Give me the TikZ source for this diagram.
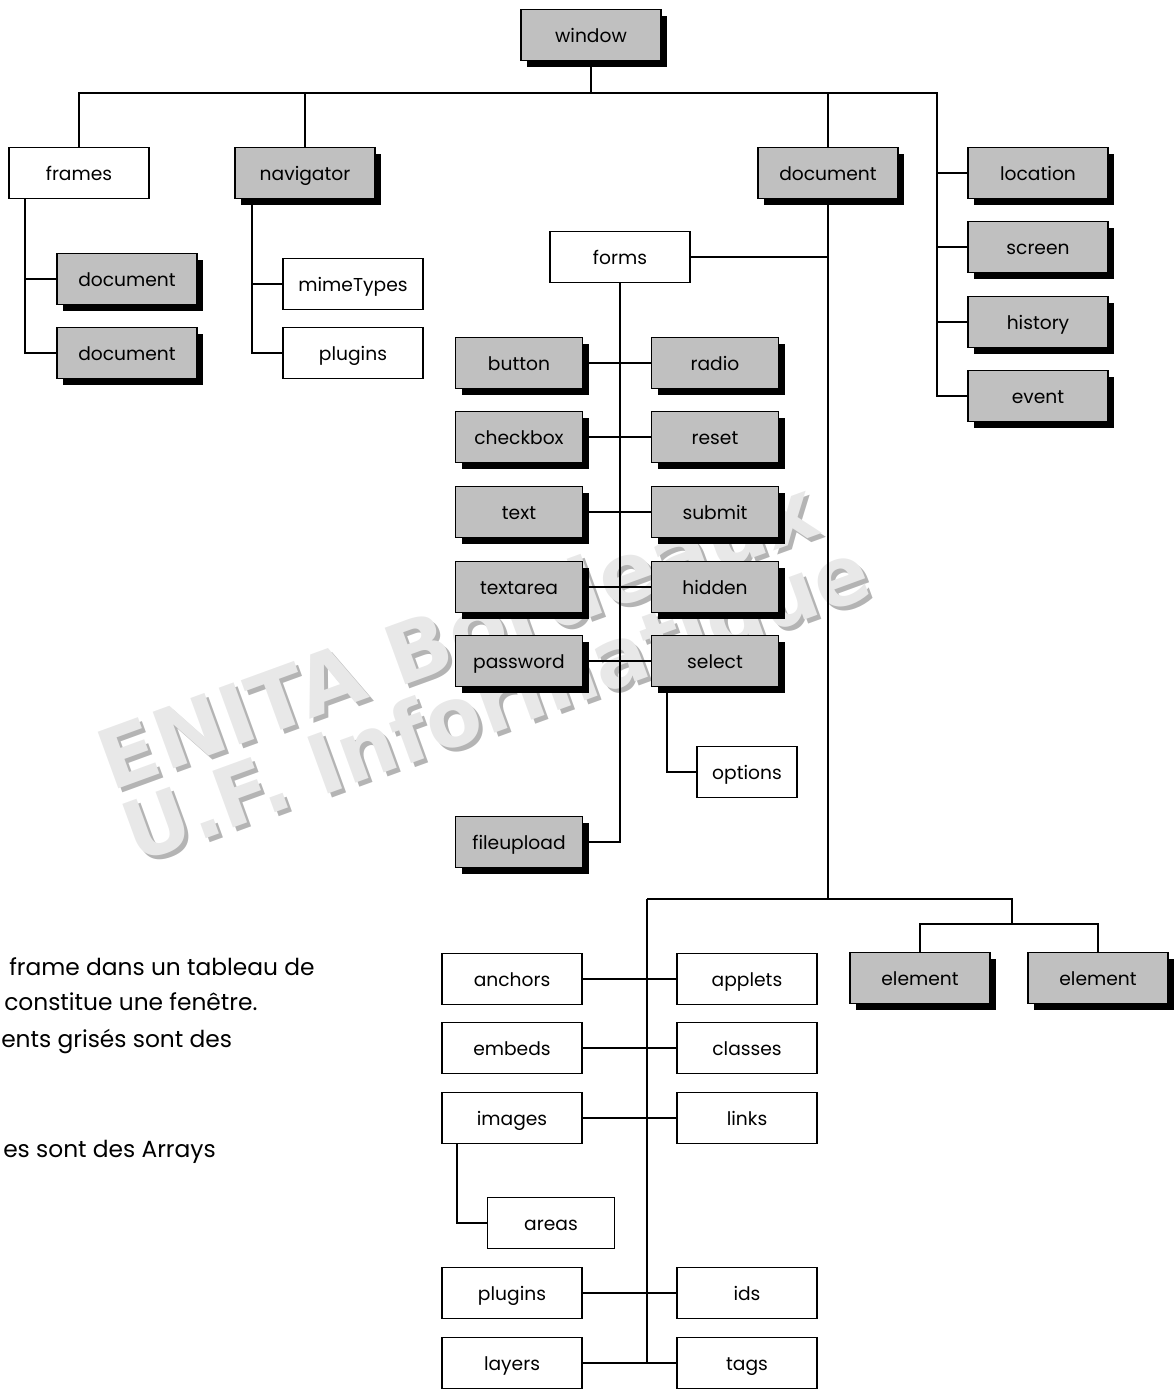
\documentclass[tikz,border=0pt]{standalone}
\usepackage{fontspec}
\usetikzlibrary{shadows}
\setmainfont{Poppins}
\newfontfamily\wmfont{DejaVu Sans}
\definecolor{boxgray}{HTML}{C0C0C0}
\definecolor{wmface}{HTML}{E8E8E8}
\definecolor{wmside}{HTML}{B4B4B4}
\pgfdeclarelayer{wm}
\pgfdeclarelayer{bg}
\pgfsetlayers{wm,bg,main}
\begin{document}
\begin{tikzpicture}[x=0.75pt,y=-0.75pt,
  box/.style={draw, line width=1.4pt, minimum height=38.25pt, minimum width=105pt,
    inner sep=0pt, text height=14.5pt, text depth=3pt, fill=white, font=\fontsize{14}{16}\selectfont},
  gbox/.style={box, fill=boxgray, drop shadow={shadow xshift=4.5pt, shadow yshift=-4.5pt, fill=black, opacity=1}},
  narrow/.style={minimum width=95.25pt},
  conn/.style={line width=1.4pt},
  wmtext/.style={anchor=base, rotate=20, inner sep=0pt, font=\wmfont\bfseries\fontsize{62}{62}\selectfont},
  para/.style={anchor=base west, inner sep=0pt, font=\fontsize{17.5}{20}\selectfont}
]
\useasboundingbox (0,0) rectangle (1175,1389);
\clip (0,0) rectangle (1175,1389);

% watermark
\begin{pgfonlayer}{wm}
\node[wmtext, text=wmside] (wmas) at (472,666) {\scalebox{1.02}[1]{ENITA Bordeaux}};
\node[wmtext, text=wmside] (wmbs) at (510,733) {\scalebox{0.97}[1]{U.F. Informatique}};
\node[wmtext, text=wmface] (wma) at (468,662) {\scalebox{1.02}[1]{ENITA Bordeaux}};
\node[wmtext, text=wmface] (wmb) at (506,729) {\scalebox{0.97}[1]{U.F. Informatique}};
\end{pgfonlayer}

% top level
\node[gbox] (window) at (591,35) {window};
\node[box] (frames) at (79,173) {frames};
\node[gbox] (navigator) at (305,173) {navigator};
\node[gbox] (document) at (828,173) {document};
\node[gbox] (location) at (1038,173) {location};
\node[gbox] (screen) at (1038,247) {screen};
\node[gbox] (history) at (1038,322) {history};
\node[gbox] (event) at (1038,396) {event};

\node[gbox] (fdoca) at (127,279) {document};
\node[gbox] (fdocb) at (127,353) {document};
\node[box] (mime) at (353,284) {mimeTypes};
\node[box] (nplug) at (353,353) {plugins};

% forms
\node[box] (forms) at (620,257) {forms};
\node[gbox,narrow] (button) at (519,363) {button};
\node[gbox,narrow] (radio) at (715,363) {radio};
\node[gbox,narrow] (checkbox) at (519,437) {checkbox};
\node[gbox,narrow] (reset) at (715,437) {reset};
\node[gbox,narrow] (textn) at (519,512) {text};
\node[gbox,narrow] (submit) at (715,512) {submit};
\node[gbox,narrow] (textarea) at (519,587) {textarea};
\node[gbox,narrow] (hidden) at (715,587) {hidden};
\node[gbox,narrow] (password) at (519,661) {password};
\node[gbox,narrow] (select) at (715,661) {select};
\node[box,minimum width=75pt] (options) at (747,772) {options};
\node[gbox,narrow] (fileupload) at (519,842) {fileupload};

% document collections
\node[gbox] (elema) at (920,978) {element};
\node[gbox] (elemb) at (1098,978) {element};
\node[box] (anchors) at (512,979) {anchors};
\node[box] (applets) at (747,979) {applets};
\node[box] (embeds) at (512,1048) {embeds};
\node[box] (classes) at (747,1048) {classes};
\node[box] (images) at (512,1118) {images};
\node[box] (links) at (747,1118) {links};
\node[box,narrow] (areas) at (551,1223) {areas};
\node[box] (dplug) at (512,1293) {plugins};
\node[box] (ids) at (747,1293) {ids};
\node[box] (layers) at (512,1363) {layers};
\node[box] (tags) at (747,1363) {tags};

% coordinates
\coordinate (rbus) at (937,93);
\coordinate (fx) at (25,0);
\coordinate (nx) at (252,0);
\coordinate (sx) at (667,0);
\coordinate (ax) at (457,0);
\coordinate (lb) at (647,899);
\coordinate (rb) at (1012,899);
\coordinate (eb) at (1012,924);

\begin{pgfonlayer}{bg}
% top bus
\draw[conn] (frames.north) |- (rbus) -- (rbus |- event.west) -- (event.west);
\draw[conn] (window.south) -- (window.south |- rbus);
\draw[conn] (navigator.north) -- (navigator.north |- rbus);
\draw[conn] (document.north) -- (document.north |- rbus);
\draw[conn] (location.west) -- (location.west -| rbus);
\draw[conn] (screen.west) -- (screen.west -| rbus);
\draw[conn] (history.west) -- (history.west -| rbus);
% frames
\draw[conn] (frames.south -| fx) |- (fdocb.west);
\draw[conn] (fdoca.west) -- (fdoca.west -| fx);
% navigator
\draw[conn] (navigator.south -| nx) |- (nplug.west);
\draw[conn] (mime.west) -- (mime.west -| nx);
% document
\draw[conn] (document.south) -- (document.south |- lb);
\draw[conn] (forms.east) -- (forms.east -| document.south);
% forms
\draw[conn] (forms.south) |- (fileupload.east);
\draw[conn] (button.east) -- (radio.west);
\draw[conn] (checkbox.east) -- (reset.west);
\draw[conn] (textn.east) -- (submit.west);
\draw[conn] (textarea.east) -- (hidden.west);
\draw[conn] (password.east) -- (select.west);
\draw[conn] (select.south -| sx) |- (options.west);
% lower
\draw[conn] (lb) -- (rb) -- (eb);
\draw[conn] (elema.north) |- (eb) -| (elemb.north);
\draw[conn] (lb) |- (tags.west);
\draw[conn] (layers.east) -- (tags.west);
\draw[conn] (anchors.east) -- (applets.west);
\draw[conn] (embeds.east) -- (classes.west);
\draw[conn] (images.east) -- (links.west);
\draw[conn] (dplug.east) -- (ids.west);
\draw[conn] (images.south -| ax) |- (areas.west);
\end{pgfonlayer}

% side note
\node[para] (nota) at (9,975) {frame dans un tableau de};
\node[para] (notb) at (4,1010) {constitue une fenêtre.};
\node[para] (notc) at (1,1047) {ents grisés sont des};
\node[para] (notd) at (3,1157) {es sont des Arrays};
\end{tikzpicture}
\end{document}
